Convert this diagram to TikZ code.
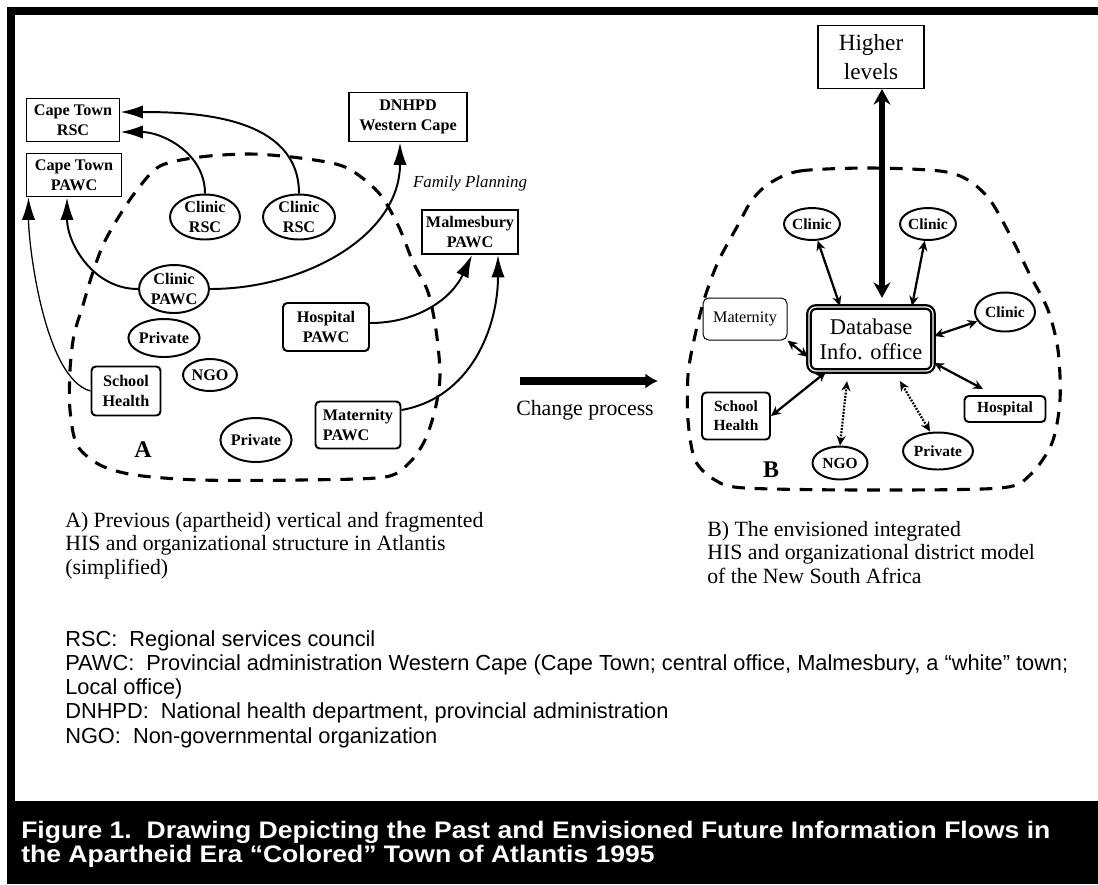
\documentclass[tikz,border=0pt]{standalone}
\usepackage{fontspec}
\setmainfont{Liberation Serif}
\setsansfont{Liberation Sans}
\newfontfamily\capfont[FakeStretch=1.11]{Liberation Sans}
\usetikzlibrary{positioning}
\usetikzlibrary{arrows.meta}
\usetikzlibrary{shapes.geometric}
\newdimen\pxu
\pxu=0.025cm
\tikzset{
    sz/.style 2 args={minimum width=#1\pxu, minimum height=#2\pxu},
    lbox/.style={draw, line width=1.4pt, inner sep=0pt, align=center, font=\fontsize{11.5}{14}\selectfont\bfseries},
    lrbox/.style={lbox, rounded corners=3pt},
    lell/.style={lbox, ellipse},
    rbox/.style={draw, line width=1.4pt, inner sep=0pt, align=center, rounded corners=3pt, font=\fontsize{11}{13.5}\selectfont\bfseries},
    rell/.style={rbox, ellipse},
    thinbox/.style={draw, line width=0.7pt, inner sep=0pt, align=center, rounded corners=4pt, font=\fontsize{11.5}{14}\selectfont},
    dbbox/.style={draw, line width=1.6pt, double, double distance=0.9pt, rounded corners=5pt, inner sep=0pt, align=center, font=\fontsize{16}{18}\selectfont},
    hbox/.style={draw, line width=0.8pt, inner sep=0pt, align=center, font=\fontsize{16.5}{20}\selectfont},
    flow/.style={-{Latex[length=16pt,width=9.5pt]}, line width=1.4pt},
    link/.style={{Stealth[length=7pt,width=6.5pt]}-{Stealth[length=7pt,width=6.5pt]}, line width=1.6pt},
    dlink/.style={link, dash pattern=on 1.3pt off 1pt},
    blob/.style={line width=2.2pt, dash pattern=on 9pt off 7pt},
    caption/.style={anchor=base west, align=left, inner sep=0pt}
}
\begin{document}
\begin{tikzpicture}[x=0.025cm, y=-0.025cm]
    \useasboundingbox (0,0) rectangle (1098,884);
    \fill[white] (0,0) rectangle (1098,884);
    \fill (7,7) rectangle (1098,15);
    \fill (7,7) rectangle (15,801);
    \fill (7,801) rectangle (1098,884);

    \draw[blob] plot[smooth cycle] coordinates {(160,166) (200,157) (250,154) (300,158) (345,167) (378,192) (398,225) (413,262) (428,292) (436,330) (440,375) (435,410) (425,440) (410,462) (385,477) (300,480) (200,480) (135,475) (100,465) (77,445) (70,410) (70,370) (74,335) (83,305) (92,275) (103,245) (118,218) (137,190)};

    \node[lbox, sz={93}{43}] (ctrsc) at (73,120) {Cape Town\\RSC};
    \node[lbox, sz={95}{43}] (ctpawc) at (74,175) {Cape Town\\PAWC};
    \node[lbox, sz={118}{49}] (dnhpd) at (408,117) {DNHPD\\Western Cape};
    \node[lbox, sz={96}{44}] (malm) at (470,232) {Malmesbury\\PAWC};
    \node[lell, sz={70}{45}] (crsca) at (205,217) {Clinic\\RSC};
    \node[lell, sz={72}{45}] (crscb) at (299,217) {Clinic\\RSC};
    \node[lell, sz={70}{48}] (cpawc) at (174,289) {Clinic\\PAWC};
    \node[lrbox, sz={86}{48}] (hosp) at (326,327) {Hospital\\PAWC};
    \node[lell, sz={66}{38}] (priva) at (164,338) {Private};
    \node[lell, sz={54}{32}] (ngoa) at (210,375) {NGO};
    \node[lrbox, sz={69}{49}] (scha) at (126,391) {School\\Health};
    \node[lell, sz={70}{44}] (privb) at (256,440) {Private};
    \node[lrbox, sz={85}{47}, align=left] (mata) at (358,425) {Maternity\\PAWC};
    \node[font=\fontsize{17}{20}\selectfont\bfseries] (labA) at (143,450) {A};
    \node[font=\fontsize{12}{14}\selectfont\itshape] (fp) at (470,183) {Family Planning};

    \draw[flow] (crscb.north) to[out=90, in=0] ([yshift=8\pxu]ctrsc.east);
    \draw[flow] (crsca.north) to[out=90, in=0] ([yshift=-12\pxu]ctrsc.east);
    \draw[flow] (cpawc.west) to[out=180, in=-90] ([xshift=-7\pxu]ctpawc.south);
    \draw[flow] (cpawc.east) to[out=0, in=-90] ([xshift=-8\pxu]dnhpd.south);
    \draw[flow, line width=0.9pt] (scha.west) to[out=165, in=-90, looseness=0.6] ([xshift=3\pxu]ctpawc.south west);
    \draw[flow] ([yshift=4\pxu]hosp.east) to[out=0, in=-115] ([xshift=2\pxu]malm.south);
    \draw[flow] ([yshift=15\pxu]mata.east) to[out=10, in=-90] ([xshift=28\pxu]malm.south);

    \coordinate (chgs) at (520,381);
    \coordinate (chge) at (658,381);
    \draw[-{Latex[length=9pt,width=11pt]}, line width=5pt] (chgs) -- (chge);
    \node[font=\fontsize{15.5}{18}\selectfont] (chg) at (585,410) {Change process};

    \draw[blob] plot[smooth cycle] coordinates {(770,183) (800,171) (870,168) (940,171) (968,180) (990,200) (1010,235) (1030,275) (1048,310) (1058,350) (1060,400) (1052,443) (1030,475) (1000,488) (870,490) (745,488) (715,480) (695,460) (688,420) (688,375) (694,340) (704,300) (718,262) (738,225) (752,200)};

    \node[hbox, sz={106}{63}] (higher) at (871,57) {Higher\\levels};
    \node[dbbox, sz={124}{64}] (db) at (871,339) {Database\\Info. office};
    \node[rell, sz={54}{32}] (clb1) at (812,224) {Clinic};
    \node[rell, sz={54}{32}] (clb2) at (928,224) {Clinic};
    \node[rell, sz={60}{39}] (clb3) at (1005,312) {Clinic};
    \node[thinbox, sz={84}{42}] (matb) at (745,319) {Maternity};
    \node[rbox, sz={68}{47}] (schb) at (736,416) {School\\Health};
    \node[rell, sz={55}{33}] (ngob) at (840,463) {NGO};
    \node[rell, sz={70}{37}] (privc) at (938,451) {Private};
    \node[rbox, sz={81}{26}] (hospb) at (1005,409) {Hospital};
    \node[font=\fontsize{17}{20}\selectfont\bfseries] (labB) at (771,470) {B};

    \draw[{Stealth[length=11pt,width=12pt]}-{Stealth[length=11pt,width=12pt]}, line width=4pt] ([xshift=11\pxu]higher.south) -- ([xshift=11\pxu, yshift=8\pxu]db.north);
    \draw[link] (clb1) -- ([xshift=-31\pxu]db.north);
    \draw[link] (clb2) -- ([xshift=41\pxu]db.north);
    \draw[link] (clb3) -- ([yshift=3\pxu]db.east);
    \draw[link] (matb.south east) -- ([yshift=-18\pxu]db.west);
    \draw[link] (schb.east) -- ([xshift=18\pxu]db.south west);
    \draw[dlink] (ngob.north) -- ([xshift=-24\pxu, yshift=-9\pxu]db.south);
    \draw[dlink] ([xshift=-8\pxu]privc.north) -- ([xshift=29\pxu, yshift=-9\pxu]db.south);
    \draw[link] ([yshift=-24\pxu]db.east) -- ([xshift=-22\pxu, yshift=6\pxu]hospb.north);

    \node[caption, font=\fontsize{15.5}{16.7}\selectfont] (capA) at (65,574) {A) Previous (apartheid) vertical and fragmented\\HIS and organizational structure in Atlantis\\(simplified)};
    \node[caption, font=\fontsize{15.5}{16.7}\selectfont] (capB) at (707,583) {B) The envisioned integrated\\HIS and organizational district model\\of the New South Africa};
    \node[caption, font=\sffamily\fontsize{15.5}{17.1}\selectfont] (legend) at (65,743) {RSC:\ \ Regional services council\\PAWC:\ \ Provincial administration Western Cape (Cape Town; central office, Malmesbury, a “white” town;\\Local office)\\DNHPD:\ \ National health department, provincial administration\\NGO:\ \ Non-governmental organization};
    \node[caption, text=white, font=\capfont\bfseries\fontsize{17}{15.4}\selectfont] (figcap) at (21,862) {Figure 1.\ \ Drawing Depicting the Past and Envisioned Future Information Flows in\\the Apartheid Era “Colored” Town of Atlantis 1995};
\end{tikzpicture}
\end{document}
